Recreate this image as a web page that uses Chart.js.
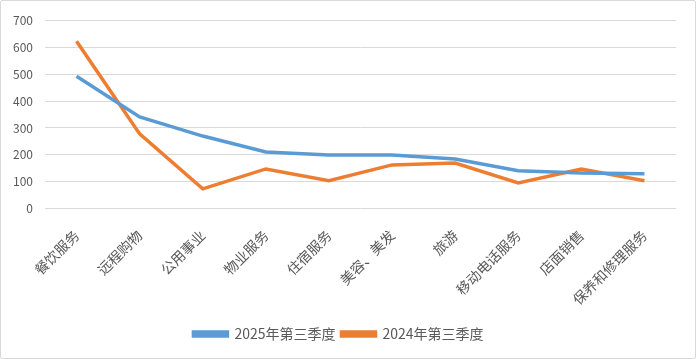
<!DOCTYPE html>
<html>
<head>
<meta charset="utf-8">
<script src="https://cdn.jsdelivr.net/npm/chart.js@4.4.1/dist/chart.umd.min.js"></script>
<style>
    html, body { margin:0; padding:0; background:#fff; }
    #box { position:relative; width:694px; height:357px; border:1px solid #d9d9d9; border-radius:2px; }
</style>
</head>
<body>
<div id="box"><canvas id="lineChart"></canvas></div>
<script>

// CHART DATA
const categories = ["餐饮服务","远程购物","公用事业","物业服务","住宿服务","美容、美发","旅游","移动电话服务","店面销售","保养和修理服务"];
const series2025 = [492, 341, 270, 211, 200, 200, 185, 141, 133, 130];
const series2024 = [622, 278, 74, 148, 104, 163, 170, 96, 148, 104];
const yTicks = [0, 100, 200, 300, 400, 500, 600, 700];

const fontFamily = "'Noto Sans CJK SC', 'Liberation Sans', sans-serif";
const textColor = "#595959";


// BUILD CHART
new Chart(

    document.getElementById("lineChart"),

    {
        type:"line",
        data:{
            labels:categories,
            datasets:[
                {
                    label:"2025年第三季度",
                    data:series2025,
                    borderColor:"#5B9BD5",
                    backgroundColor:"#5B9BD5",
                    borderWidth:3.5,
                    pointRadius:0,
                    tension:0
                },
                {
                    label:"2024年第三季度",
                    data:series2024,
                    borderColor:"#ED7D31",
                    backgroundColor:"#ED7D31",
                    borderWidth:3.5,
                    pointRadius:0,
                    tension:0
                }
            ]
        },
        options:{
            responsive:true,
            maintainAspectRatio:false,
            animation:false,
            layout:{
                padding:{left:0, right:19, top:10, bottom:7}
            },
            plugins:{
                legend:{
                    position:"bottom",
                    labels:{
                        boxWidth:34,
                        boxHeight:4,
                        padding:6,
                        color:textColor,
                        font:{family:fontFamily, size:14}
                    }
                },
                tooltip:{enabled:false}
            },
            scales:{
                x:{
                    offset:true,
                    grid:{display:false},
                    border:{display:false},
                    afterFit:(axis) => {
                        axis.height += 3;
                    },
                    ticks:{
                        minRotation:45,
                        maxRotation:45,
                        color:textColor,
                        padding:10,
                        font:{family:fontFamily, size:14}
                    }
                },
                y:{
                    min:0,
                    max:700,
                    afterBuildTicks:(axis) => {
                        axis.ticks = yTicks.map(v => ({value:v}));
                    },
                    afterFit:(axis) => {
                        axis.width = 44;
                    },
                    grid:{color:"#d9d9d9", drawTicks:false},
                    border:{display:false},
                    ticks:{
                        color:textColor,
                        padding:12,
                        font:{family:fontFamily, size:12}
                    }
                }
            }
        }
    }

);

</script>
</body>
</html>
